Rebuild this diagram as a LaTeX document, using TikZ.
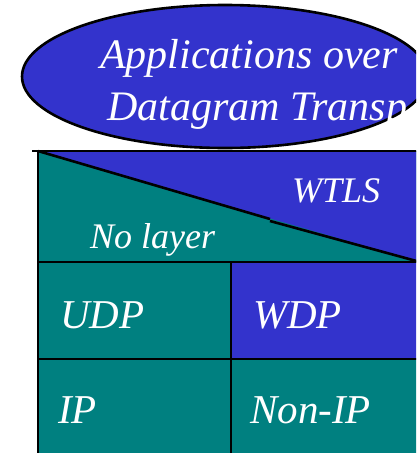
\documentclass[tikz,border=0pt]{standalone}
\usepackage{fontspec}
\setmainfont{Liberation Serif}[ItalicFont={Liberation Serif Italic},UprightFont={Liberation Serif}]
\newfontfamily\labfont{Liberation Serif Italic}
\definecolor{wblue}{RGB}{51,51,204}
\definecolor{wteal}{RGB}{0,128,128}
\begin{document}
\begin{tikzpicture}[x=1pt,y=-1pt,
  edge/.style={draw=black,line width=2.6pt},
  lbl/.style={anchor=base west,inner sep=0pt,text=white},
  big/.style={lbl,font=\labfont\fontsize{41}{41}\selectfont},
  mid/.style={lbl,font=\labfont\fontsize{36}{36}\selectfont},
  top/.style={lbl,font=\labfont\fontsize{42}{42}\selectfont}]
\useasboundingbox (0,0) rectangle (416,453);
\clip (0,0) rectangle (416,453);
% ellipse
\draw[fill=wblue,line width=2.6pt] (225,76.5) ellipse [x radius=203,y radius=71.5];
\node[top] (app1) at (100,68) {Applications over};
\node[top] (app2) at (107,120) {Datagram Transp};
% table fills
\fill[wteal] (38,151) rectangle (420,262);
\fill[wblue] (38,151) -- (420,151) -- (420,262) -- cycle;
\fill[wteal] (38,262) rectangle (231,359);
\fill[wblue] (231,262) rectangle (420,359);
\fill[wteal] (38,359) rectangle (420,460);
% lines
\draw[edge] (32,151) -- (420,151);
\draw[edge] (38,151) -- (270,219);
\draw[edge] (270,221) -- (420,262);
\draw[edge] (38,151) -- (38,460);
\draw[edge] (38,262) -- (420,262);
\draw[edge] (38,359) -- (420,359);
\draw[edge] (231,262) -- (231,460);
% labels
\node[mid] (wtls) at (292,202) {WTLS};
\node[mid] (nol) at (90,248) {No layer};
\node[big] (udp) at (60,328) {UDP};
\node[big] (wdp) at (253,328) {WDP};
\node[big] (ip) at (58,423) {IP};
\node[big] (nonip) at (250,423) {Non-IP};
\end{tikzpicture}
\end{document}
